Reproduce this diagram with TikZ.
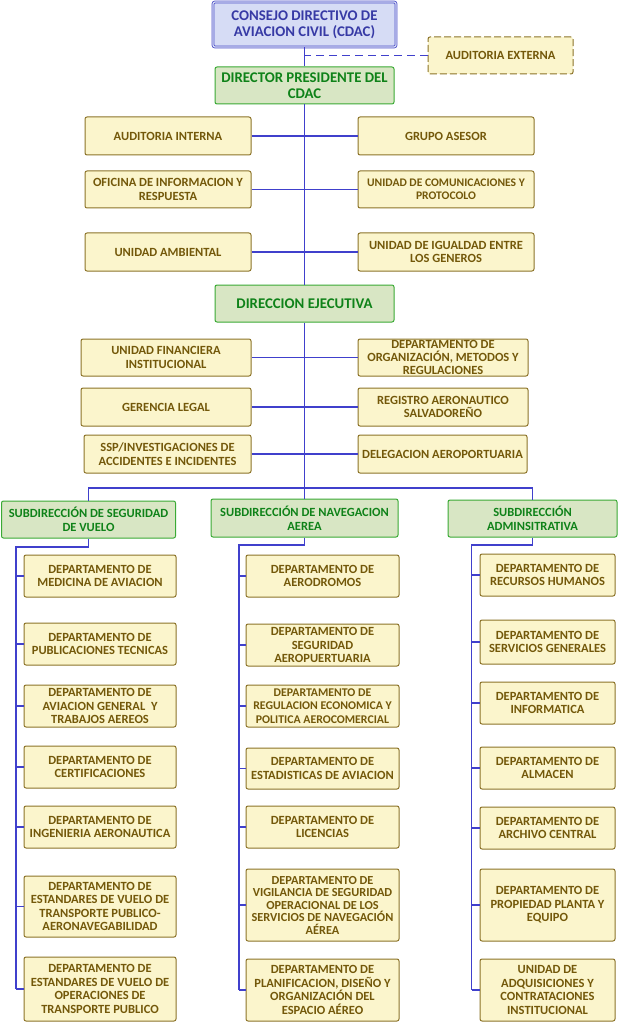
\documentclass[tikz,border=0pt]{standalone}
\usepackage{fontspec}
\setmainfont{Carlito}
\definecolor{linkblue}{RGB}{64,64,204}
\definecolor{unitfill}{RGB}{251,245,204}
\definecolor{unitline}{RGB}{140,115,40}
\definecolor{unittext}{RGB}{115,88,10}
\definecolor{headfill}{RGB}{216,230,196}
\definecolor{headline}{RGB}{58,170,53}
\definecolor{headtext}{RGB}{15,130,25}
\definecolor{topfill}{RGB}{214,220,245}
\definecolor{topline}{RGB}{80,82,200}
\definecolor{toptext}{RGB}{55,58,165}
\begin{document}
\begin{tikzpicture}[x=1pt,y=-1pt,
    size/.style 2 args={minimum width=#1, minimum height=#2},
    unit/.style={draw=unitline, fill=unitfill, text=unittext, rounded corners=2pt,
      line width=1pt, align=center, inner sep=0pt,
      font=\bfseries\fontsize{12.5}{13.6}\selectfont},
    head/.style={unit, draw=headline, fill=headfill, text=headtext},
    big/.style={font=\bfseries\fontsize{14.8}{16}\selectfont},
    seg/.style={unit, minimum width=152},
    nav/.style={unit, minimum width=153},
    adm/.style={unit, minimum width=135},
    link/.style={draw=linkblue, line width=1.8pt}]
        \useasboundingbox (0,0) rectangle (620,1024);

        % Top of the chart
        \node[head, big, draw=topline, fill=topfill, text=toptext, double=topfill,
          double distance=1.2pt, line width=0.8pt, size={183}{45}] (cdac) at (304.5,24.5)
          {CONSEJO DIRECTIVO DE\\AVIACION CIVIL (CDAC)};
        \node[unit, dash pattern=on 7pt off 3pt, size={145}{37}] (audext) at (500.5,55.5) {AUDITORIA EXTERNA};
        \node[head, big, size={179}{37}] (dirpres) at (304.5,85.5) {DIRECTOR PRESIDENTE DEL\\CDAC};

        % Staff units of the president
        \node[unit, size={166}{38}] (audint) at (168,136) {AUDITORIA INTERNA};
        \node[unit, size={176}{38}] (grupo) at (446,136) {GRUPO ASESOR};
        \node[unit, size={166}{37}] (ofinfo) at (168,189.5) {OFICINA DE INFORMACION Y\\RESPUESTA};
        \node[unit, size={176}{37}, font=\bfseries\fontsize{11.6}{12.8}\selectfont]
          (unicom) at (446,189.5) {UNIDAD DE COMUNICACIONES Y\\PROTOCOLO};
        \node[unit, size={166}{38}] (uniamb) at (168,252) {UNIDAD AMBIENTAL};
        \node[unit, size={176}{38}] (uniig) at (446,252) {UNIDAD DE IGUALDAD ENTRE\\LOS GENEROS};

        \node[head, big, size={179}{37}] (direj) at (304.5,303.5) {DIRECCION EJECUTIVA};

        % Staff units of the executive
        \node[unit, size={170}{37}] (ufi) at (166,357.5) {UNIDAD FINANCIERA\\INSTITUCIONAL};
        \node[unit, size={170}{37}, font=\bfseries\fontsize{12.5}{12.6}\selectfont]
          (dorg) at (443,357.5) {DEPARTAMENTO DE\\ORGANIZACIÓN, METODOS Y\\REGULACIONES};
        \node[unit, size={170}{38}] (glegal) at (166,407) {GERENCIA LEGAL};
        \node[unit, size={170}{38}] (rasal) at (443,407) {REGISTRO AERONAUTICO\\SALVADOREÑO};
        \node[unit, size={167}{38}] (ssp) at (167.5,454) {SSP/INVESTIGACIONES DE\\ACCIDENTES E INCIDENTES};
        \node[unit, size={169}{38}] (deleg) at (442.5,454) {DELEGACION AEROPORTUARIA};

        % Subdirections
        \node[head, size={174}{37}] (subseg) at (88.5,519.5) {SUBDIRECCIÓN DE SEGURIDAD\\DE VUELO};
        \node[head, size={187}{38}] (subnav) at (304.5,518) {SUBDIRECCIÓN DE NAVEGACION\\AEREA};
        \node[head, size={169}{37}] (subadm) at (532.5,518.5) {SUBDIRECCIÓN\\ADMINSITRATIVA};

        % Seguridad de vuelo
        \node[seg, minimum height=42] (seg1) at (100,576) {DEPARTAMENTO DE\\MEDICINA DE AVIACION};
        \node[seg, minimum height=42] (seg2) at (100,644) {DEPARTAMENTO DE\\PUBLICACIONES TECNICAS};
        \node[seg, minimum height=42] (seg3) at (100,706) {DEPARTAMENTO DE\\AVIACION GENERAL \ Y\\TRABAJOS AEREOS};
        \node[seg, minimum height=42] (seg4) at (100,767) {DEPARTAMENTO DE\\CERTIFICACIONES};
        \node[seg, minimum height=42] (seg5) at (100,827) {DEPARTAMENTO DE\\INGENIERIA AERONAUTICA};
        \node[seg, minimum height=61] (seg6) at (100,906.5) {DEPARTAMENTO DE\\ESTANDARES DE VUELO DE\\TRANSPORTE PUBLICO-\\AERONAVEGABILIDAD};
        \node[seg, minimum height=64] (seg7) at (100,989) {DEPARTAMENTO DE\\ESTANDARES DE VUELO DE\\OPERACIONES DE\\TRANSPORTE PUBLICO};

        % Navegacion aerea
        \node[nav, minimum height=42] (nav1) at (322.5,576) {DEPARTAMENTO DE\\AERODROMOS};
        \node[nav, minimum height=42] (nav2) at (322.5,645) {DEPARTAMENTO DE\\SEGURIDAD\\AEROPUERTUARIA};
        \node[nav, minimum height=42, font=\bfseries\fontsize{11.8}{13.4}\selectfont]
          (nav3) at (322.5,706) {DEPARTAMENTO DE\\REGULACION ECONOMICA Y\\POLITICA AEROCOMERCIAL};
        \node[nav, minimum height=41] (nav4) at (322.5,768.5) {DEPARTAMENTO DE\\ESTADISTICAS DE AVIACION};
        \node[nav, minimum height=42] (nav5) at (322.5,827) {DEPARTAMENTO DE\\LICENCIAS};
        \node[nav, minimum height=72, font=\bfseries\fontsize{12.3}{12.5}\selectfont]
          (nav6) at (322.5,905) {DEPARTAMENTO DE\\VIGILANCIA DE SEGURIDAD\\OPERACIONAL DE LOS\\SERVICIOS DE NAVEGACIÓN\\AÉREA};
        \node[nav, minimum height=62] (nav7) at (322.5,990) {DEPARTAMENTO DE\\PLANIFICACION, DISEÑO Y\\ORGANIZACIÓN DEL\\ESPACIO AÉREO};

        % Administrativa
        \node[adm, minimum height=42] (adm1) at (547.5,575) {DEPARTAMENTO DE\\RECURSOS HUMANOS};
        \node[adm, minimum height=44] (adm2) at (547.5,642) {DEPARTAMENTO DE\\SERVICIOS GENERALES};
        \node[adm, minimum height=42] (adm3) at (547.5,703) {DEPARTAMENTO DE\\INFORMATICA};
        \node[adm, minimum height=42] (adm4) at (547.5,768) {DEPARTAMENTO DE\\ALMACEN};
        \node[adm, minimum height=42] (adm5) at (547.5,828) {DEPARTAMENTO DE\\ARCHIVO CENTRAL};
        \node[adm, minimum height=72] (adm6) at (547.5,905) {DEPARTAMENTO DE\\PROPIEDAD PLANTA Y\\EQUIPO};
        \node[adm, minimum height=62] (adm7) at (547.5,990) {UNIDAD DE\\ADQUISICIONES Y\\CONTRATACIONES\\INSTITUCIONAL};

        % Main line
        \draw[link] (cdac) -- (dirpres);
        \draw[link] (dirpres) -- (direj);
        \draw[link, dash pattern=on 8pt off 5pt] (audext.west) -- (audext.west -| cdac.south);
        \draw[link] (audint) -- (grupo);
        \draw[link] (ofinfo) -- (unicom);
        \draw[link] (uniamb) -- (uniig);
        \draw[link] (ufi) -- (dorg);
        \draw[link] (glegal) -- (rasal);
        \draw[link] (ssp) -- (deleg);
        \coordinate (bus) at (304.5,488);
        \draw[link] (direj) -- (bus) -- (subnav);
        \draw[link] (subseg.north) |- (bus) -| (subadm.north);

        % Columns
        \coordinate (segtop) at (16,547);
        \coordinate (navtop) at (239,545);
        \coordinate (admtop) at (471.5,545);
        \draw[link] (subseg.south) |- (segtop) -- (segtop |- seg7.west);
        \draw[link] (subnav.south) |- (navtop) -- (navtop |- nav7.west);
        \draw[link] (subadm.south) |- (admtop) -- (admtop |- adm7.west);
        \foreach \i in {1,...,7} {
          \draw[link] (segtop |- seg\i.west) -- (seg\i.west);
          \draw[link] (navtop |- nav\i.west) -- (nav\i.west);
          \draw[link] (admtop |- adm\i.west) -- (adm\i.west);
        }
      \end{tikzpicture}
\end{document}
